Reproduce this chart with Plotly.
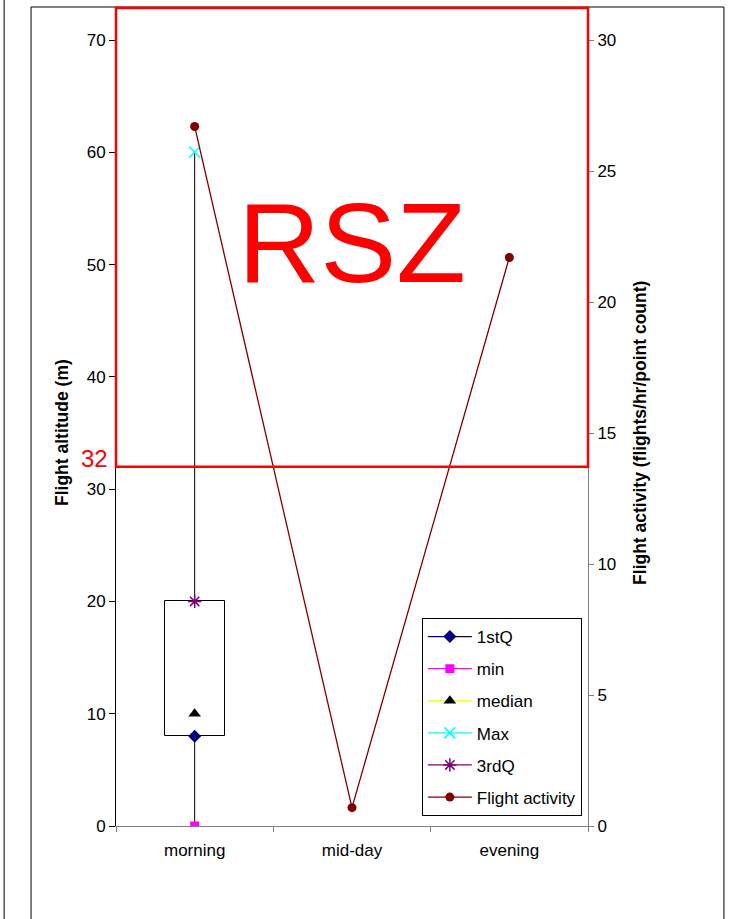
import plotly.graph_objects as go

# ---- data ----
categories = ["morning", "mid-day", "evening"]
box_cat = ["morning"]
q1 = [8]
minimum = [0]
median = [10]
maximum = [60]
q3 = [20]
flight_activity = [26.7, 0.7, 21.7]

left_ticks = [0, 10, 20, 30, 40, 50, 60, 70]
right_ticks = [0, 5, 10, 15, 20, 25, 30]

FONT = "Liberation Sans, Arial, sans-serif"

fig = go.Figure()

# box body (1stQ -> 3rdQ)
fig.add_trace(go.Bar(
    x=box_cat, y=[b - a for a, b in zip(q1, q3)], base=q1,
    width=0.38, marker=dict(color="white", line=dict(color="black", width=1)),
    showlegend=False, hoverinfo="skip", yaxis="y"))

# whiskers (min -> 1stQ, 3rdQ -> Max)
wx, wy = [], []
for c, lo, a, b, hi in zip(box_cat, minimum, q1, q3, maximum):
    wx += [c, c, None, c, c, None]
    wy += [lo, a, None, b, hi, None]
fig.add_trace(go.Scatter(x=wx, y=wy, mode="lines", line=dict(color="black", width=1),
                         showlegend=False, hoverinfo="skip"))

series = [
    ("1stQ", q1, "#000080", dict(symbol="diamond", size=10, color="#000080")),
    ("min", minimum, "#ff00ff", dict(symbol="square", size=9, color="#ff00ff")),
    ("median", median, "#ffff00", dict(symbol="triangle-up", size=11, color="black")),
    ("Max", maximum, "#00ffff", dict(symbol="x-thin-open", size=11, color="#00ffff",
                                    line=dict(color="#00ffff", width=1.5))),
    ("3rdQ", q3, "#800080", dict(symbol="asterisk-open", size=11, color="#800080",
                                 line=dict(color="#800080", width=1.5))),
]
for i, (name, vals, lc, mk) in enumerate(series):
    fig.add_trace(go.Scatter(x=box_cat, y=vals, name=name, mode="lines+markers",
                             line=dict(color=lc, width=1.3), marker=mk,
                             legendgroup=f"g{i}"))

fig.add_trace(go.Scatter(x=categories, y=flight_activity, name="Flight activity",
                         mode="lines+markers", yaxis="y2",
                         line=dict(color="#800000", width=1.3),
                         marker=dict(symbol="circle", size=9, color="#800000"),
                         legendgroup="g9"))

fig.update_layout(
    width=732, height=919,
    margin=dict(l=116, r=144, t=40, b=93),
    paper_bgcolor="white", plot_bgcolor="white",
    font=dict(family=FONT, size=17, color="black"),
    showlegend=True,
    legend=dict(x=0.648, y=0.2646, xanchor="left", yanchor="top",
                bgcolor="white", bordercolor="black", borderwidth=1,
                font=dict(size=17), itemwidth=44, tracegroupgap=7,
                traceorder="grouped"),
    xaxis=dict(type="category", categoryarray=categories, categoryorder="array",
               range=[-0.5, 2.5], showline=True, linecolor="#808080", linewidth=1,
               ticks="outside", tickson="boundaries", ticklen=5, tickcolor="#808080",
               showgrid=False, zeroline=False, tickfont=dict(size=17),
               ticklabelstandoff=9),
    yaxis=dict(range=[0, 70], tickvals=left_ticks, showline=True, linecolor="black",
               linewidth=1, ticks="outside", ticklen=6, tickcolor="black",
               showgrid=False, zeroline=False, tickfont=dict(size=17)),
    yaxis2=dict(range=[0, 30], tickvals=right_ticks, overlaying="y", side="right",
                showline=True, linecolor="#808080", linewidth=1, ticks="outside",
                ticklen=5, tickcolor="#808080", showgrid=False, zeroline=False,
                tickfont=dict(size=17)),
    bargap=0,
)

# axis titles
fig.add_annotation(text="<b>Flight altitude (m)</b>", xref="paper", yref="paper",
                   x=-0.1144, y=0.5, xanchor="center", yanchor="middle",
                   textangle=-90, showarrow=False, font=dict(size=17.5))
fig.add_annotation(text="<b>Flight activity (flights/hr/point count)</b>", xref="paper",
                   yref="paper", x=1.110, y=0.5, xanchor="center", yanchor="middle",
                   textangle=-90, showarrow=False, font=dict(size=17.5))

# chart frame and left border line
fig.add_shape(type="rect", xref="paper", yref="paper", x0=-0.180, x1=1.288,
              y0=-0.2, y1=1.042, line=dict(color="black", width=1), layer="below")
fig.add_shape(type="line", xref="paper", yref="paper", x0=-0.237, x1=-0.237,
              y0=-0.2, y1=1.1, line=dict(color="black", width=1))

# red overlay
fig.add_shape(type="rect", xref="paper", yref="paper", x0=0, x1=1,
              y0=32 / 70, y1=1.0407, line=dict(color="red", width=2.5))
fig.add_annotation(text="RSZ", xref="paper", yref="paper", x=0.5, y=0.826,
                   showarrow=False, font=dict(size=114, color="red"))
fig.add_annotation(text="32", xref="paper", yref="paper", x=-0.012, y=0.468,
                   xanchor="right", showarrow=False, font=dict(size=24, color="red"))

fig.write_html("out.html", config={"displayModeBar": False},
               post_script="document.body.style.margin='0';")
